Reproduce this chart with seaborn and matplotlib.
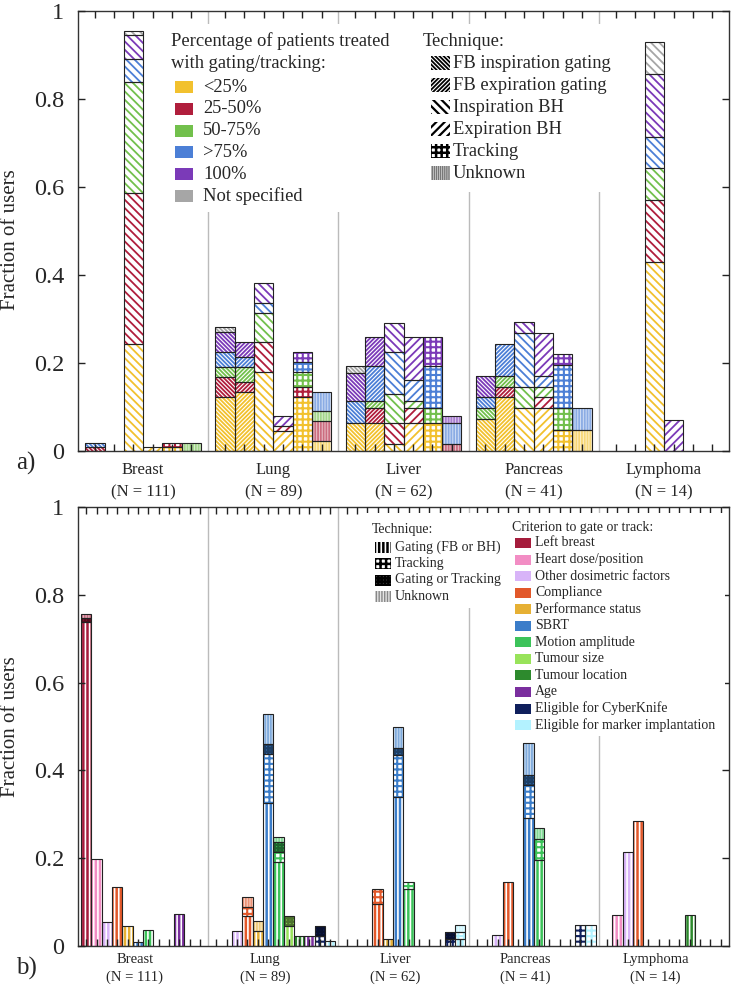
import numpy as np
import matplotlib
matplotlib.use("Agg")
import matplotlib.pyplot as plt
from matplotlib.patches import Rectangle
from matplotlib.colors import to_rgb
import seaborn as sns

sns.set_style("ticks")
plt.rcParams['font.family'] = ['Liberation Serif', 'DejaVu Serif']
plt.rcParams['hatch.linewidth'] = 1.3
plt.rcParams['axes.axisbelow'] = False

# ---- data ----
sites = ['Breast', 'Lung', 'Liver', 'Pancreas', 'Lymphoma']
n_users = [111, 89, 62, 41, 14]

# panel a: percentage of patients treated with gating/tracking
pct_labels = ['<25%', '25-50%', '50-75%', '>75%', '100%', 'Not specified']
pct_colors = ['#F2C12E', '#B01E3C', '#72C04C', '#4C7FD6', '#7B3AB8', '#A6A6A6']
techniques_a = ['FB inspiration gating', 'FB expiration gating', 'Inspiration BH',
                'Expiration BH', 'Tracking', 'Unknown']

# number of users, rows = technique, columns = percentage category
breast_a = [[0, 1, 0, 1, 0, 0],
            [0, 0, 0, 0, 0, 0],
            [27, 38, 28, 6, 6, 1],
            [1, 0, 0, 0, 0, 0],
            [1, 1, 0, 0, 0, 0],
            [0, 0, 2, 0, 0, 0]]
lung_a = [[11, 4, 2, 3, 4, 1],
          [12, 2, 3, 2, 3, 0],
          [16, 6, 6, 2, 4, 0],
          [4, 1, 0, 0, 2, 0],
          [11, 2, 3, 2, 2, 0],
          [2, 4, 2, 4, 0, 0]]
liver_a = [[4, 0, 0, 3, 4, 1],
           [4, 2, 1, 5, 4, 0],
           [1, 3, 4, 6, 4, 0],
           [4, 2, 1, 3, 6, 0],
           [4, 0, 2, 6, 4, 0],
           [0, 1, 0, 3, 1, 0]]
pancreas_a = [[3, 0, 1, 1, 2, 0],
              [5, 1, 1, 3, 0, 0],
              [4, 0, 2, 5, 1, 0],
              [4, 1, 1, 1, 4, 0],
              [2, 0, 2, 4, 1, 0],
              [2, 0, 0, 2, 0, 0]]
lymphoma_a = [[0, 0, 0, 0, 0, 0],
              [0, 0, 0, 0, 0, 0],
              [6, 2, 1, 1, 2, 1],
              [0, 0, 0, 0, 1, 0],
              [0, 0, 0, 0, 0, 0],
              [0, 0, 0, 0, 0, 0]]
counts_a = [breast_a, lung_a, liver_a, pancreas_a, lymphoma_a]

# panel b: criterion to gate or track
criteria = ['Left breast', 'Heart dose/position', 'Other dosimetric factors', 'Compliance',
            'Performance status', 'SBRT', 'Motion amplitude', 'Tumour size',
            'Tumour location', 'Age', 'Eligible for CyberKnife', 'Eligible for marker implantation']
crit_colors = ['#A51C3C', '#F28DC4', '#D8B4F8', '#E2582A', '#E6B034', '#3B7DC9',
               '#3CC35A', '#98E35A', '#2D8A2D', '#7A2E9E', '#0F1F5C', '#B3F2FF']
techniques_b = ['Gating (FB or BH)', 'Tracking', 'Gating or Tracking', 'Unknown']

# number of users, rows = criterion, columns = technique
breast_b = [[82, 0, 1, 1], [22, 0, 0, 0], [6, 0, 0, 0], [15, 0, 0, 0],
            [5, 0, 0, 0], [1, 0, 0, 0], [4, 0, 0, 0], [0, 0, 0, 0],
            [0, 0, 0, 0], [8, 0, 0, 0], [0, 0, 0, 0], [0, 0, 0, 0]]
lung_b = [[0, 0, 0, 0], [0, 0, 0, 0], [3, 0, 0, 0], [6, 2, 0, 2],
          [3, 0, 0, 2], [29, 10, 2, 6], [17, 2, 2, 1], [4, 0, 2, 0],
          [2, 0, 0, 0], [2, 0, 0, 0], [0, 2, 2, 0], [1, 0, 0, 0]]
liver_b = [[0, 0, 0, 0], [0, 0, 0, 0], [0, 0, 0, 0], [6, 2, 0, 0],
           [1, 0, 0, 0], [21, 6, 1, 3], [8, 1, 0, 0], [0, 0, 0, 0],
           [0, 0, 0, 0], [0, 0, 0, 0], [0, 1, 1, 0], [1, 1, 0, 1]]
pancreas_b = [[0, 0, 0, 0], [0, 0, 0, 0], [1, 0, 0, 0], [6, 0, 0, 0],
              [0, 0, 0, 0], [12, 3, 1, 3], [8, 2, 0, 1], [0, 0, 0, 0],
              [0, 0, 0, 0], [0, 0, 0, 0], [0, 2, 0, 0], [0, 2, 0, 0]]
lymphoma_b = [[0, 0, 0, 0], [1, 0, 0, 0], [3, 0, 0, 0], [4, 0, 0, 0],
              [0, 0, 0, 0], [0, 0, 0, 0], [0, 0, 0, 0], [0, 0, 0, 0],
              [1, 0, 0, 0], [0, 0, 0, 0], [0, 0, 0, 0], [0, 0, 0, 0]]
counts_b = [breast_b, lung_b, liver_b, pancreas_b, lymphoma_b]


def tint(c, f):
    c = np.array(to_rgb(c))
    return tuple(c + (1 - c) * f)


def shade(c, f):
    c = np.array(to_rgb(c))
    return tuple(c * (1 - f))


# style of each fill: (facecolor, hatch colour, hatch, hatch linewidth)
def fill_style(color, kind):
    if kind == 'unknown':
        return tint(color, 0.75), tint(color, 0.35), '|' * 6, 1.3
    if kind == 'track':
        return 'white', color, '+' * 3, 1.5
    if kind == 'either':
        return color, shade(color, 0.5), '+' * 5, 1.6
    if kind == 'stripes':
        return color, 'white', '|' * 4, 1.2
    return 'white', color, kind, 1.3


def segment(ax, x, h, b, color, kind, width=1.0):
    fc, hc, hatch, hlw = fill_style(color, kind)
    bars = ax.bar(x, h, width, bottom=b, color=fc, edgecolor=hc, hatch=hatch, linewidth=0, zorder=2)
    for p in bars:
        if hasattr(p, 'set_hatch_linewidth'):
            p.set_hatch_linewidth(hlw)
    ax.bar(x, h, width, bottom=b, facecolor='none', edgecolor='#222222', linewidth=0.8, zorder=3)


kinds_a = ['\\' * 8, '/' * 8, '\\' * 4, '/' * 4, 'track', 'unknown']
kinds_b = ['stripes', 'track', 'either', 'unknown']

fig = plt.figure(figsize=(7.31, 9.85), dpi=100)
ax_a = fig.add_axes([78 / 731, 1 - 451 / 985, 651 / 731, 440 / 985])
ax_b = fig.add_axes([78 / 731, 1 - 946 / 985, 651 / 731, 439 / 985])

W_A = 6.75
W_B = 12.6

# panel a bars
centers_a = []
for g in range(len(sites)):
    frac = np.array(counts_a[g]) / n_users[g]
    for i in range(len(techniques_a)):
        x = g * W_A + 0.875 + i
        centers_a.append(x)
        b = 0
        for k in range(len(pct_labels)):
            if frac[i, k] > 0:
                segment(ax_a, x, frac[i, k], b, pct_colors[k], kinds_a[i])
                b += frac[i, k]

# panel b bars
centers_b = []
for g in range(len(sites)):
    frac = np.array(counts_b[g]) / n_users[g]
    for i in range(len(criteria)):
        x = g * W_B + 0.8 + i
        centers_b.append(x)
        b = 0
        for k in range(len(techniques_b)):
            if frac[i, k] > 0:
                segment(ax_b, x, frac[i, k], b, crit_colors[i], kinds_b[k])
                b += frac[i, k]

for ax, W, centers, lab_y, fs, shift in [(ax_a, W_A, centers_a, (-0.043, -0.093), 12, 0.0),
                                         (ax_b, W_B, centers_b, (-0.030, -0.071), 10.5, -0.8)]:
    ax.set_xlim(0, 5 * W)
    ax.set_ylim(0, 1)
    for g in range(1, 5):
        ax.axvline(g * W, color='#BBBBBB', lw=1, zorder=0.5)
    ax.set_xticks(centers)
    ax.set_xticklabels([])
    ax.set_yticks([0, 0.2, 0.4, 0.6, 0.8, 1])
    ax.set_yticklabels(['0', '0.2', '0.4', '0.6', '0.8', '1'], fontsize=17.5)
    ax.tick_params(axis='both', which='major', direction='in', top=True, right=True,
                   bottom=True, left=True, length=5, width=1, color='#222222', pad=10)
    for s in ax.spines.values():
        s.set_color('#333333')
        s.set_linewidth(1)
    for g, site in enumerate(sites):
        ax.text((g + 0.5) * W + shift, lab_y[0], site, transform=ax.get_xaxis_transform(),
                ha='center', va='center', fontsize=fs)
        ax.text((g + 0.5) * W + shift, lab_y[1], '(N = %d)' % n_users[g],
                transform=ax.get_xaxis_transform(), ha='center', va='center', fontsize=fs)


def fx(x):
    return x / 731


def fy(y):
    return 1 - y / 985


fig.text(fx(11), fy(240), 'Fraction of users', rotation=90, fontsize=15, ha='center', va='center')
fig.text(fx(11), fy(727), 'Fraction of users', rotation=90, fontsize=15, ha='center', va='center')
fig.text(fx(26), fy(463), 'a)', fontsize=18, ha='center', va='center')
fig.text(fx(26), fy(968), 'b)', fontsize=18, ha='center', va='center')


def white_box(x0, y0, x1, y1):
    fig.add_artist(Rectangle((fx(x0), fy(y1)), fx(x1) - fx(x0), fy(y0) - fy(y1),
                             transform=fig.transFigure, facecolor='white',
                             edgecolor='none', zorder=5))


def key(x0, x1, yc, h, fc, ec, hatch, hlw=1.3):
    r = Rectangle((fx(x0), fy(yc + h / 2)), fx(x1) - fx(x0), h / 985,
                  transform=fig.transFigure, facecolor=fc, edgecolor=ec,
                  hatch=hatch, linewidth=0, zorder=6)
    if hasattr(r, 'set_hatch_linewidth'):
        r.set_hatch_linewidth(hlw)
    fig.add_artist(r)


# legends of panel a
white_box(160, 24, 412, 212)
white_box(414, 24, 625, 192)
fig.text(fx(171), fy(41), 'Percentage of patients treated', fontsize=13.3, va='center', zorder=7)
fig.text(fx(171), fy(63), 'with gating/tracking:', fontsize=13.3, va='center', zorder=7)
for k, lab in enumerate(pct_labels):
    yc = 87 + 21.8 * k
    key(175, 193, yc, 12, pct_colors[k], pct_colors[k], None)
    fig.text(fx(203), fy(yc), lab, fontsize=13.3, va='center', zorder=7)

fig.text(fx(423), fy(41), 'Technique:', fontsize=13.3, va='center', zorder=7)
icon_a = [('white', 'black', '\\' * 8, 1.3), ('white', 'black', '/' * 8, 1.3),
          ('white', 'black', '\\' * 4, 1.6), ('white', 'black', '/' * 4, 1.6),
          ('white', 'black', '+' * 3, 1.8), ('#DDDDDD', '#777777', '|' * 8, 1.0)]
for k, lab in enumerate(techniques_a):
    yc = 63 + 22 * k
    fc, ec, hatch, hlw = icon_a[k]
    key(431, 450, yc, 13, fc, ec, hatch, hlw)
    fig.text(fx(453), fy(yc), lab, fontsize=13.3, va='center', zorder=7)

# legends of panel b
white_box(365, 513, 500, 608)
white_box(505, 513, 725, 736)
fig.text(fx(372), fy(530), 'Technique:', fontsize=10, va='center', zorder=7)
icon_b = [('black', 'white', '|' * 4, 1.2), ('white', 'black', '+' * 3, 1.8),
          ('#444444', 'black', '+' * 5, 1.6), ('#E4E4E4', '#888888', '|' * 6, 1.0)]
for k, lab in enumerate(techniques_b):
    yc = 547 + 16.5 * k
    fc, ec, hatch, hlw = icon_b[k]
    key(375, 391, yc, 11, fc, ec, hatch, hlw)
    fig.text(fx(395), fy(yc), lab, fontsize=10, va='center', zorder=7)

fig.text(fx(512), fy(527), 'Criterion to gate or track:', fontsize=10, va='center', zorder=7)
for k, lab in enumerate(criteria):
    yc = 543 + 16.55 * k
    key(515, 531, yc, 10, crit_colors[k], crit_colors[k], None)
    fig.text(fx(535), fy(yc), lab, fontsize=10, va='center', zorder=7)

fig.savefig('out.png', dpi=100)
